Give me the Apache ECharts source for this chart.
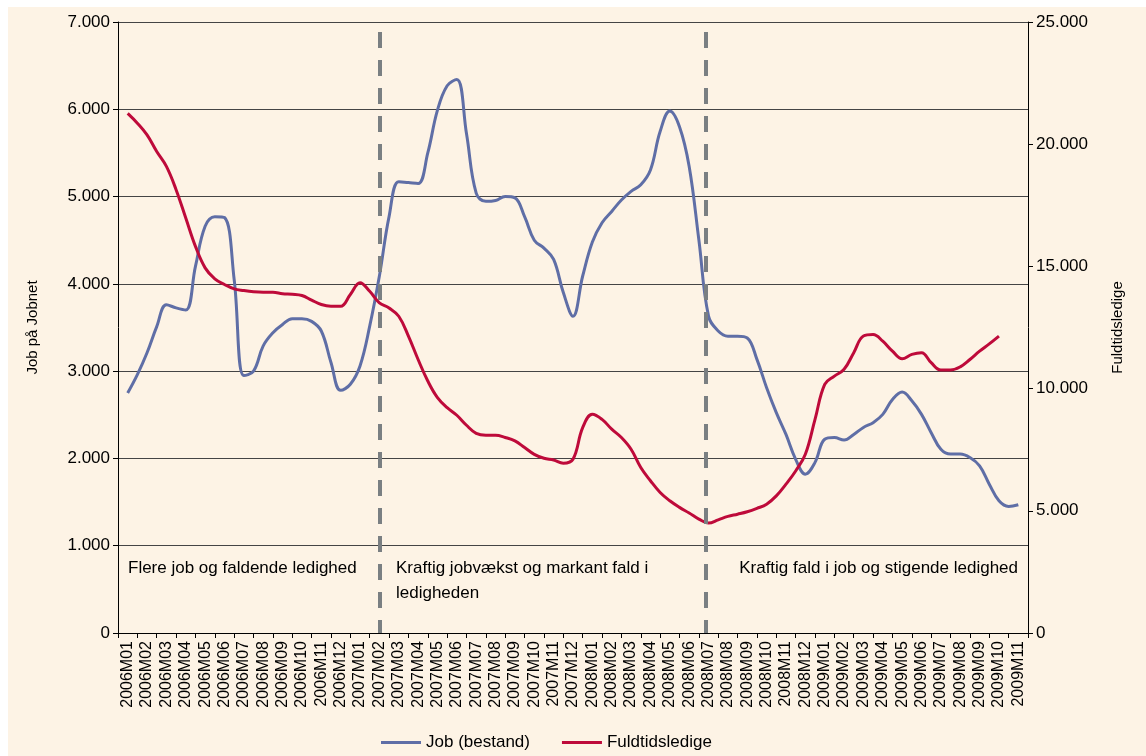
<!DOCTYPE html>
<html>
<head>
<meta charset="utf-8">
<script src="https://cdn.jsdelivr.net/npm/echarts@6/dist/echarts.min.js"></script>
<style>
  html, body { margin: 0; padding: 0; background: #fff; }
  #chart { position: absolute; left: 8px; top: 7px; width: 1138px; height: 749px; background: #fdf3e5; }
</style>
</head>
<body>
<div id="chart"></div>
<script>
// months on the category axis
const months = [];
for (let y = 2006; y <= 2009; y++) {
  for (let m = 1; m <= 12; m++) {
    if (y === 2009 && m > 11) break;
    months.push(y + 'M' + (m < 10 ? '0' + m : m));
  }
}

// one value per half month (starts at 2006M01)
const jobBestand = [
  2750, 2960, 3210, 3510, 3760, 3725, 3700, 4200, 4660, 4770, 4760, 4050,
  2950, 3000, 3290, 3440, 3535, 3600, 3600, 3570, 3460, 3100, 2780, 2850,
  3060, 3515, 4090, 4770, 5170, 5160, 5150, 5500, 5990, 6270, 6340, 5720,
  5040, 4945, 4955, 5000, 4985, 4770, 4500, 4410, 4280, 3900, 3630, 4090,
  4480, 4700, 4830, 4960, 5060, 5135, 5305, 5745, 5980, 5800, 5345, 4505,
  3630, 3460, 3400, 3400, 3380, 3135, 2810, 2525, 2275, 1990, 1820, 1955,
  2220, 2240, 2210, 2275, 2355, 2410, 2505, 2675, 2760, 2660, 2505, 2295,
  2105, 2050, 2050, 2010, 1915, 1705, 1515, 1450, 1470
];
const fuldtidsledige = [
  21260, 20860, 20380, 19700, 19090, 18140, 16980, 15820, 14940, 14490, 14260, 14080,
  14010, 13960, 13940, 13940, 13880, 13860, 13810, 13620, 13440, 13370, 13370, 13850,
  14330, 13980, 13510, 13300, 12960, 12150, 11190, 10310, 9630, 9220, 8910, 8500,
  8170, 8090, 8090, 8000, 7860, 7590, 7310, 7150, 7080, 6950, 7110, 8400,
  8950, 8740, 8340, 8000, 7520, 6770, 6230, 5750, 5410, 5140, 4910, 4660,
  4500, 4630, 4770, 4860, 4960, 5100, 5270, 5610, 6090, 6630, 7310, 8740,
  10170, 10510, 10790, 11470, 12150, 12210, 11940, 11530, 11220, 11400, 11470, 11060,
  10760, 10760, 10890, 11190, 11530, 11830, 12150
];

// period breaks (month index) and the texts for each period
const breaks = [13, 29.85];
const periodTexts = [
  'Flere job og faldende ledighed',
  'Kraftig jobvækst og markant fald i\nledigheden',
  'Kraftig fald i job og stigende ledighed'
];

const fmt = v => String(v).replace(/\B(?=(\d{3})+(?!\d))/g, '.');
const font = '"Liberation Sans", Arial, sans-serif';

const chart = echarts.init(document.getElementById('chart'));
chart.setOption({
  animation: false,
  textStyle: { fontFamily: font, color: '#000' },
  grid: { left: 110, right: 118, top: 15, bottom: 123 },
  legend: {
    left: 368, bottom: 0,
    icon: 'rect', itemWidth: 40, itemHeight: 3, itemGap: 32,
    textStyle: { fontSize: 17, color: '#000', fontFamily: font },
    data: ['Job (bestand)', 'Fuldtidsledige']
  },
  xAxis: [
    {
      type: 'category',
      data: months,
      boundaryGap: true,
      axisLine: { lineStyle: { color: '#000', width: 1 } },
      axisTick: { show: true, length: 5, lineStyle: { color: '#000' } },
      axisLabel: { interval: 0, rotate: 90, fontSize: 16, color: '#000', margin: 8, fontFamily: font }
    },
    { type: 'value', min: -0.5, max: 46.5, show: false }
  ],
  yAxis: [
    {
      type: 'value', min: 0, max: 7000, interval: 1000,
      name: 'Job på Jobnet', nameLocation: 'middle', nameGap: 78, nameRotate: 90,
      nameTextStyle: { fontSize: 15, color: '#000', fontFamily: font },
      axisLine: { show: true, onZero: false, lineStyle: { color: '#000' } },
      axisTick: { show: true, length: 5, lineStyle: { color: '#000' } },
      axisLabel: { fontSize: 17, color: '#000', margin: 8, formatter: fmt, fontFamily: font },
      splitLine: { show: true, lineStyle: { color: '#444', width: 1 } }
    },
    {
      type: 'value', min: 0, max: 25000, interval: 5000, position: 'right',
      name: 'Fuldtidsledige', nameLocation: 'middle', nameGap: 82, nameRotate: 90,
      nameTextStyle: { fontSize: 15, color: '#000', fontFamily: font },
      axisLine: { show: true, onZero: false, lineStyle: { color: '#000' } },
      axisTick: { show: true, length: 5, lineStyle: { color: '#000' } },
      axisLabel: { fontSize: 17, color: '#000', margin: 8, formatter: fmt, fontFamily: font },
      splitLine: { show: false }
    }
  ],
  series: [
    {
      name: 'Job (bestand)',
      type: 'line',
      xAxisIndex: 1, yAxisIndex: 0,
      data: jobBestand.map((v, i) => [i / 2, v]),
      smooth: 0.4, showSymbol: false,
      lineStyle: { color: '#5f6ea6', width: 3 },
      itemStyle: { color: '#5f6ea6' },
      markLine: {
        silent: true, symbol: 'none', label: { show: false },
        lineStyle: { color: '#7a7f82', width: 4, type: [16, 12] },
        data: breaks.map(b => [{ coord: [b, 6885] }, { coord: [b, 0] }])
      },
      z: 3
    },
    {
      name: 'Fuldtidsledige',
      type: 'line',
      xAxisIndex: 1, yAxisIndex: 1,
      data: fuldtidsledige.map((v, i) => [i / 2, v]),
      smooth: 0.4, showSymbol: false,
      lineStyle: { color: '#be0a3a', width: 3 },
      itemStyle: { color: '#be0a3a' },
      z: 4
    }
  ],
  graphic: [
    { type: 'text', left: 120, top: 549, style: { text: periodTexts[0], fontSize: 17, lineHeight: 25, fontFamily: font, fill: '#000' } },
    { type: 'text', left: 388, top: 549, style: { text: periodTexts[1], fontSize: 17, lineHeight: 25, fontFamily: font, fill: '#000' } },
    { type: 'text', right: 128, top: 549, style: { text: periodTexts[2], fontSize: 17, lineHeight: 25, fontFamily: font, fill: '#000' } }
  ]
});
</script>
</body>
</html>
